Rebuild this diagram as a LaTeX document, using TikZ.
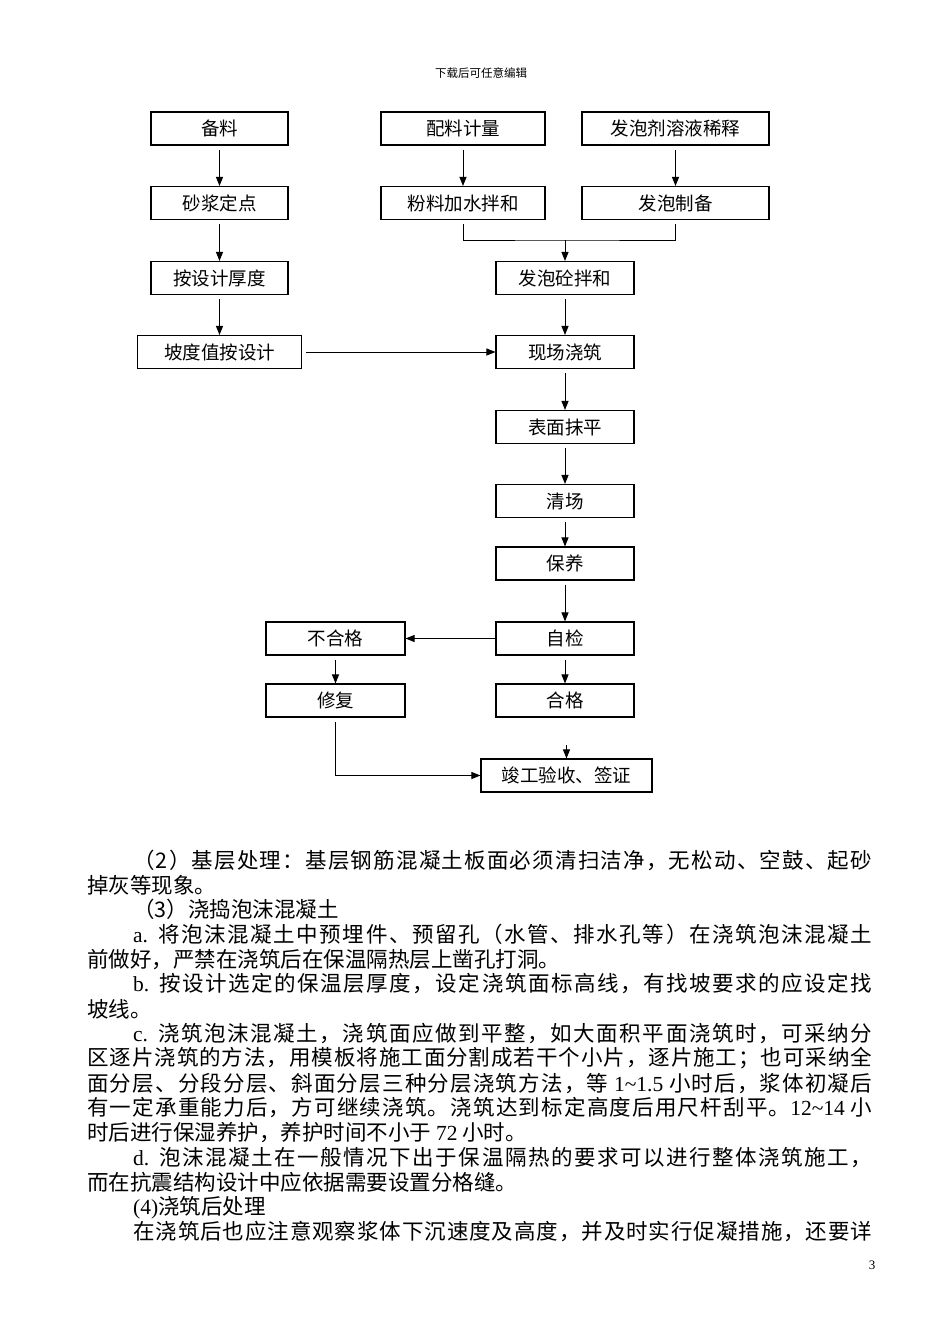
\documentclass[tikz,border=0pt]{standalone}
\usepackage{fontspec}
\setmainfont{Liberation Serif}
\newfontfamily\cjk{Noto Sans CJK SC}
\usetikzlibrary{arrows.meta}
\newcommand\lat[1]{{\rmfamily #1}}
% stretchable glue between Chinese characters, for the justified lines
\count255="3000
\loop \XeTeXcharclass\count255=7 \ifnum\count255<"9FFF \advance\count255 1 \repeat
\count255="FF00
\loop \XeTeXcharclass\count255=7 \ifnum\count255<"FFEF \advance\count255 1 \repeat
\XeTeXinterchartoks 7 7 = {\hskip0pt plus 3pt\relax}
\XeTeXinterchartoks 0 7 = {\hskip0pt plus 3pt\relax}
\XeTeXinterchartoks 7 0 = {\hskip0pt plus 3pt\relax}
\XeTeXinterchartokenstate=1

\begin{document}
\begin{tikzpicture}[x=1pt,y=-1pt,
  box/.style={draw,line width=1.1pt,minimum height=33,inner sep=0,font=\cjk\fontsize{18.5}{20}\selectfont},
  txt/.style={anchor=west,inner sep=0,font=\cjk\fontsize{21.5}{24}\selectfont},
  arr/.style={line width=1pt,-{Triangle[length=9pt,width=7pt]}}]
\fill[white] (0,0) rectangle (950,1344);

\node[font=\cjk\fontsize{11.5}{12}\selectfont] (biaoti) at (481,73) {下载后可任意编辑};

\foreach \n/\x/\y/\w/\t in {
  beiliao/219.5/128.5/137/备料, peiliao/463/128.5/164/配料计量,
  xishi/675.5/128.5/187/发泡剂溶液稀释,
  shajiang/219.5/203/137/砂浆定点, fenliao/463/203/164/粉料加水拌和,
  zhibei/675.5/203/187/发泡制备,
  houdu/219.5/278/137/按设计厚度, banhe/565/278/138/发泡砼拌和,
  podu/219.5/352/164/坡度值按设计, jiaozhu/565/352/138/现场浇筑,
  moping/565/427/138/表面抹平, qingchang/565/501/138/清场,
  baoyang/565/563.5/138/保养, zijian/565/638.5/138/自检,
  buhege/335.5/638.5/139/不合格, xiufu/335.5/700.5/139/修复,
  hege/565/700.5/138/合格, jungong/566.5/775.5/171/竣工验收、签证}
  \node[box,minimum width=\w] (\n) at (\x,\y) {\t};

\foreach \a/\b in {beiliao/shajiang, shajiang/houdu, houdu/podu,
  peiliao/fenliao, xishi/zhibei, banhe/jiaozhu, jiaozhu/moping,
  moping/qingchang, qingchang/baoyang, baoyang/zijian,
  buhege/xiufu, zijian/hege}
  \draw[arr,shorten <=4pt] (\a.south) -- (\b.north);

\coordinate (hui) at (565,240);
\draw[line width=1pt,shorten <=4pt,shorten >=4pt] (fenliao.south) |- (hui) -| (zhibei.south);
\draw[arr] (hui) -- (banhe);
\draw[arr,shorten <=4pt] (podu) -- (jiaozhu);
\draw[arr] (zijian) -- (buhege);
\coordinate (ru) at (566.5,745);
\draw[arr] (ru) -- (jungong);
\draw[arr,shorten <=4pt] (xiufu.south) |- (jungong);

\foreach \i/\x/\t [evaluate={\w=872-\x;}] in {
  1/133/（2）基层处理：基层钢筋混凝土板面必须清扫洁净，无松动、空鼓、起砂,
  4/133/\lat{a.} 将泡沫混凝土中预埋件、预留孔（水管、排水孔等）在浇筑泡沫混凝土,
  6/133/\lat{b.} 按设计选定的保温层厚度，设定浇筑面标高线，有找坡要求的应设定找,
  8/133/\lat{c.} 浇筑泡沫混凝土，浇筑面应做到平整，如大面积平面浇筑时，可采纳分,
  9/87/区逐片浇筑的方法，用模板将施工面分割成若干个小片，逐片施工；也可采纳全,
  10/87/面分层、分段分层、斜面分层三种分层浇筑方法，等 \lat{1\textasciitilde1.5} 小时后，浆体初凝后,
  11/87/有一定承重能力后，方可继续浇筑。浇筑达到标定高度后用尺杆刮平。\lat{12\textasciitilde14} 小,
  13/133/\lat{d.} 泡沫混凝土在一般情况下出于保温隔热的要求可以进行整体浇筑施工，,
  16/133/在浇筑后也应注意观察浆体下沉速度及高度，并及时实行促凝措施，还要详}
  \node[txt] (hang\i) at (\x,{860+24.8*(\i-1)}) {\makebox[\w pt][s]{\t}};

\foreach \i/\x/\t in {
  2/87/掉灰等现象。, 3/133/（3）浇捣泡沫混凝土,
  5/87/前做好，严禁在浇筑后在保温隔热层上凿孔打洞。, 7/87/坡线。,
  12/87/时后进行保湿养护，养护时间不小于 \lat{72} 小时。,
  14/87/而在抗震结构设计中应依据需要设置分格缝。, 15/133/\lat{(4)}浇筑后处理}
  \node[txt] (hang\i) at (\x,{860+24.8*(\i-1)}) {\t};

\node[font=\fontsize{13}{14}\selectfont] (yema) at (872,1265) {3};
\end{tikzpicture}
\end{document}
